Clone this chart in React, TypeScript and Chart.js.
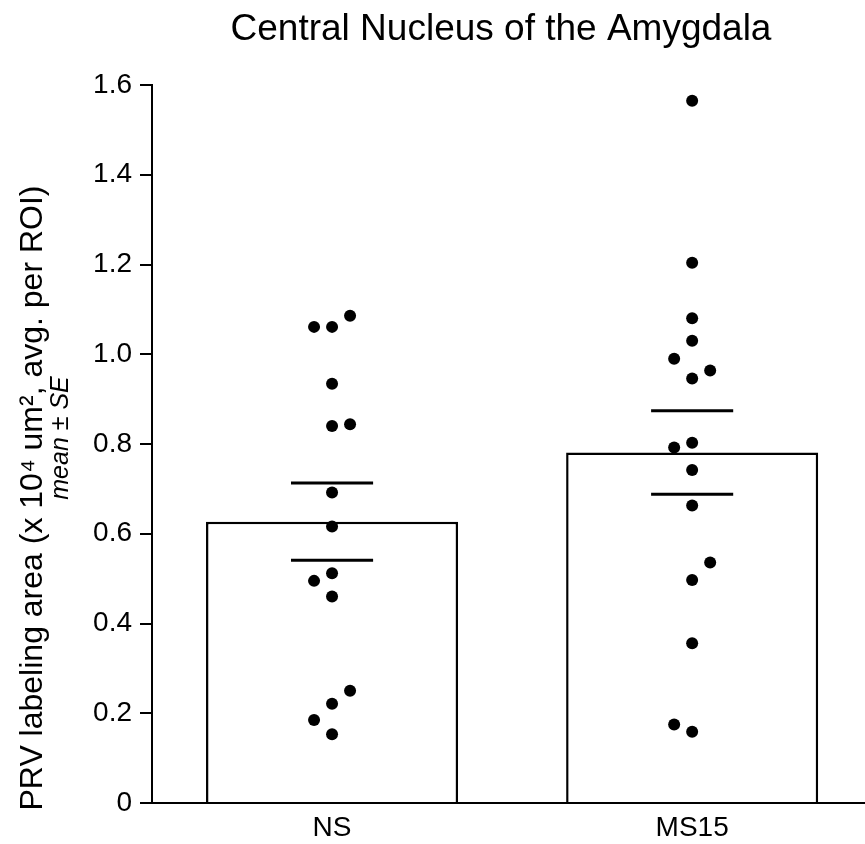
import React, { useEffect, useRef } from 'react';
import { Chart, registerables } from 'chart.js';

Chart.register(...registerables);

const TITLE = 'Central Nucleus of the Amygdala';
const Y_LABEL_LINE1 = 'PRV labeling area (x 10\u2074 um\u00b2, avg. per ROI)';
const Y_LABEL_LINE2 = 'mean \u00b1 SE';

const categories = ['NS', 'MS15'];
const barMeans = [0.627, 0.781];
const barSE = [0.086, 0.093];

const nsValues = [1.086, 1.061, 1.061, 0.934, 0.84, 0.844, 0.692, 0.616, 0.512, 0.495, 0.46, 0.25, 0.221, 0.185, 0.153];
const nsJitter = [0.05, -0.05, 0, 0, 0, 0.05, 0, 0, 0, -0.05, 0, 0.05, 0, -0.05, 0];
const ms15Values = [1.565, 1.204, 1.08, 1.03, 0.99, 0.964, 0.946, 0.803, 0.792, 0.742, 0.663, 0.536, 0.497, 0.356, 0.175, 0.159];
const ms15Jitter = [0, 0, 0, 0, -0.05, 0.05, 0, 0, -0.05, 0, 0, 0.05, 0, 0, -0.05, 0];

const yTicks = [0, 0.2, 0.4, 0.6, 0.8, 1.0, 1.2, 1.4, 1.6];
const yTickLabels = ['0', '0.2', '0.4', '0.6', '0.8', '1.0', '1.2', '1.4', '1.6'];

const FONT = '"Liberation Sans", Arial, Helvetica, sans-serif';
const CAP_HALF = 0.114;

const textPlugin = {
  id: 'textPlugin',
  afterDraw(chart: any) {
    const ctx = chart.ctx as CanvasRenderingContext2D;
    ctx.save();
    ctx.fillStyle = '#000';
    ctx.textAlign = 'center';
    ctx.textBaseline = 'alphabetic';
    ctx.font = `37px ${FONT}`;
    ctx.fillText(TITLE, 501, 40);

    ctx.save();
    ctx.translate(42, 498);
    ctx.rotate(-Math.PI / 2);
    ctx.font = `32px ${FONT}`;
    ctx.fillText(Y_LABEL_LINE1, 0, 0);
    ctx.restore();

    ctx.save();
    ctx.translate(68, 438);
    ctx.rotate(-Math.PI / 2);
    ctx.font = `italic 25px ${FONT}`;
    ctx.fillText(Y_LABEL_LINE2, 0, 0);
    ctx.restore();

    ctx.restore();
  },
};

export default function App() {
  const ref = useRef<HTMLCanvasElement | null>(null);

  useEffect(() => {
    if (!ref.current) return;
    const groups = [
      { values: nsValues, jitter: nsJitter },
      { values: ms15Values, jitter: ms15Jitter },
    ];
    const pointData = groups.flatMap((g, i) => g.values.map((v, k) => ({ x: i + g.jitter[k], y: v })));
    const errDatasets = categories.flatMap((c, i) =>
      [barMeans[i] + barSE[i], barMeans[i] - barSE[i]].map((v) => ({
        type: 'line' as const,
        label: `${c} SE`,
        data: [
          { x: i - CAP_HALF, y: v },
          { x: i + CAP_HALF, y: v },
        ],
        borderColor: '#000',
        borderWidth: 3,
        pointRadius: 0,
        fill: false,
        order: 2,
      }))
    );

    const chart = new Chart(ref.current, {
      type: 'bar',
      data: {
        datasets: [
          {
            type: 'bar',
            label: 'mean',
            data: categories.map((c, i) => ({ x: i, y: barMeans[i] })),
            backgroundColor: '#fff',
            borderColor: '#000',
            borderWidth: 2.5,
            categoryPercentage: 1,
            barPercentage: 0.7,
            order: 3,
          } as any,
          ...errDatasets,
          {
            type: 'scatter',
            label: 'animals',
            data: pointData,
            backgroundColor: '#000',
            borderWidth: 0,
            pointRadius: 6,
            order: 1,
          } as any,
        ],
      },
      options: {
        responsive: false,
        animation: false,
        layout: { autoPadding: false, padding: { top: 85, left: 0, right: 0, bottom: 0 } },
        plugins: {
          legend: { display: false },
          tooltip: { enabled: false },
          title: { display: false },
        },
        scales: {
          x: {
            type: 'linear',
            offset: false,
            min: -0.5,
            max: 1.48,
            afterBuildTicks: (s: any) => {
              s.ticks = categories.map((c, i) => ({ value: i }));
            },
            ticks: {
              callback: (v: any, i: number) => categories[i],
              font: { size: 28, family: FONT },
              color: '#000',
              padding: 8,
              autoSkip: false,
              maxRotation: 0,
            },
            grid: { display: false, drawTicks: false },
            border: { display: true, color: '#000', width: 2 },
            afterFit: (s: any) => {
              s.height = 41;
            },
          },
          y: {
            min: 0,
            max: 1.6,
            afterBuildTicks: (s: any) => {
              s.ticks = yTicks.map((v) => ({ value: v }));
            },
            ticks: {
              callback: (v: any, i: number) => yTickLabels[i],
              font: { size: 28, family: FONT },
              color: '#000',
              padding: 8,
            },
            grid: {
              display: true,
              drawOnChartArea: false,
              drawTicks: true,
              tickLength: 12,
              color: '#000',
              lineWidth: 2,
            },
            border: { display: true, color: '#000', width: 2 },
            afterFit: (s: any) => {
              s.width = 152;
            },
          },
        },
      } as any,
      plugins: [textPlugin],
    });
    return () => chart.destroy();
  }, []);

  return (
    <div style={{ position: 'absolute', left: 0, top: 0, width: 865, height: 844, overflow: 'hidden', background: '#fff' }}>
      <canvas ref={ref} width={865} height={844} style={{ display: 'block' }} />
    </div>
  );
}
